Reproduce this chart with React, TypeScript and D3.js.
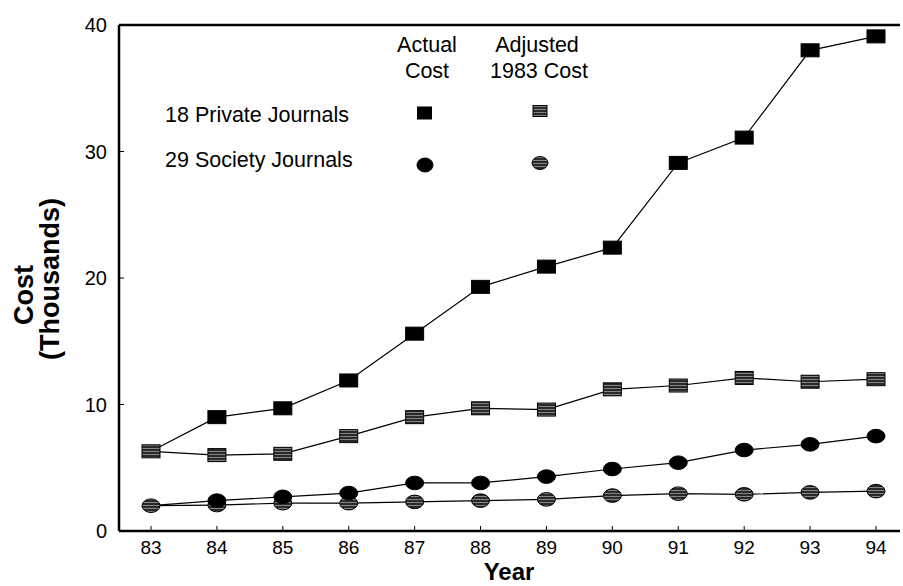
import * as d3 from 'd3'

const years = [83, 84, 85, 86, 87, 88, 89, 90, 91, 92, 93, 94]
const yTicks = [0, 10, 20, 30, 40]

// values in thousands
const privateActual = [6.3, 9.0, 9.7, 11.9, 15.6, 19.3, 20.9, 22.4, 29.1, 31.1, 38.0, 39.1]
const privateAdjusted = [6.3, 6.0, 6.1, 7.5, 9.0, 9.7, 9.6, 11.2, 11.5, 12.1, 11.8, 12.0]
const societyActual = [2.0, 2.4, 2.7, 3.0, 3.8, 3.8, 4.3, 4.9, 5.4, 6.4, 6.85, 7.5]
const societyAdjusted = [2.0, 2.05, 2.2, 2.2, 2.3, 2.4, 2.5, 2.8, 2.95, 2.9, 3.05, 3.15]

const W = 903, H = 586
const margin = { left: 119, top: 25, right: 900, bottom: 531 }
const font = "'Liberation Sans', Arial, sans-serif"

export default function App() {
    const x = d3.scaleLinear().domain([83, 94]).range([151, 876])
    const y = d3.scaleLinear().domain([0, 40]).range([margin.bottom, margin.top])
    const line = d3.line<number>().x((d, i) => x(years[i])).y(d => y(d))

    const square = (cx: number, cy: number, fill: string, key: string, w = 18, h = 13) =>
        <rect key={key} x={cx - w / 2} y={cy - h / 2} width={w} height={h} fill={fill} stroke="#000" strokeWidth={1} />
    const ellipse = (cx: number, cy: number, fill: string, key: string, rx = 9, ry = 6.8) =>
        <ellipse key={key} cx={cx} cy={cy} rx={rx} ry={ry} fill={fill} stroke="#000" strokeWidth={1} />

    return (
        <svg width={W} height={H} style={{ position: 'absolute', left: 0, top: 0, background: '#fff' }} fontFamily={font}>
            <defs>
                <pattern id="hatch" width="4" height="3" patternUnits="userSpaceOnUse">
                    <rect width="4" height="3" fill="#2a2a2a" />
                    <line x1="0" y1="1.5" x2="4" y2="1.5" stroke="#9a9a9a" strokeWidth={0.8} />
                </pattern>
            </defs>

            {/* frame */}
            <line x1={margin.left} y1={margin.top} x2={margin.right} y2={margin.top} stroke="#000" strokeWidth={2.5} />
            <line x1={margin.left} y1={margin.top} x2={margin.left} y2={margin.bottom} stroke="#000" strokeWidth={2.5} />
            <line x1={margin.left} y1={margin.bottom} x2={margin.right} y2={margin.bottom} stroke="#000" strokeWidth={2.5} />

            {/* y axis */}
            {yTicks.map(t => (
                <g key={'y' + t}>
                    {t > 0 && t < 40 && <line x1={margin.left} x2={margin.left + 5} y1={y(t)} y2={y(t)} stroke="#000" />}
                    <text x={107} y={y(t)} dy="0.36em" textAnchor="end" fontSize={20}>{t}</text>
                </g>
            ))}
            {/* x axis */}
            {years.map(yr => (
                <g key={'x' + yr}>
                    <line x1={x(yr)} x2={x(yr)} y1={margin.bottom - 5} y2={margin.bottom} stroke="#000" />
                    <text x={x(yr)} y={554} textAnchor="middle" fontSize={19}>{yr}</text>
                </g>
            ))}
            <text x={509} y={580} textAnchor="middle" fontSize={24} fontWeight="bold">Year</text>
            <g transform="translate(0,285) rotate(-90)">
                <text x={-10} y={33} textAnchor="middle" fontSize={27} fontWeight="bold">Cost</text>
                <text x={6} y={59} textAnchor="middle" fontSize={27} fontWeight="bold">(Thousands)</text>
            </g>

            {/* lines */}
            {[privateActual, privateAdjusted, societyActual, societyAdjusted].map((s, i) => (
                <path key={'l' + i} d={line(s) || ''} fill="none" stroke="#000" strokeWidth={1.2} />
            ))}
            {societyAdjusted.map((v, i) => ellipse(x(years[i]), y(v), 'url(#hatch)', 'sa' + i))}
            {societyActual.map((v, i) => i > 0 ? ellipse(x(years[i]), y(v), '#000', 'sc' + i) : null)}
            {privateAdjusted.map((v, i) => square(x(years[i]), y(v), 'url(#hatch)', 'pa' + i))}
            {privateActual.map((v, i) => i > 0 ? square(x(years[i]), y(v), '#000', 'pc' + i) : null)}

            {/* legend */}
            <g fontSize={21.5}>
                <text x={427} y={52} textAnchor="middle">Actual</text>
                <text x={427} y={78} textAnchor="middle">Cost</text>
                <text x={537} y={52} textAnchor="middle">Adjusted</text>
                <text x={539} y={78} textAnchor="middle">1983 Cost</text>
                <text x={165} y={122}>18 Private Journals</text>
                <text x={165} y={167}>29 Society Journals</text>
            </g>
            {square(424.5, 113, '#000', 'lg1', 14, 12)}
            {square(540, 111, 'url(#hatch)', 'lg2', 14, 11)}
            {ellipse(425, 165, '#000', 'lg3', 8, 7)}
            {ellipse(540, 163, 'url(#hatch)', 'lg4', 8, 6.5)}
        </svg>
    )
}
